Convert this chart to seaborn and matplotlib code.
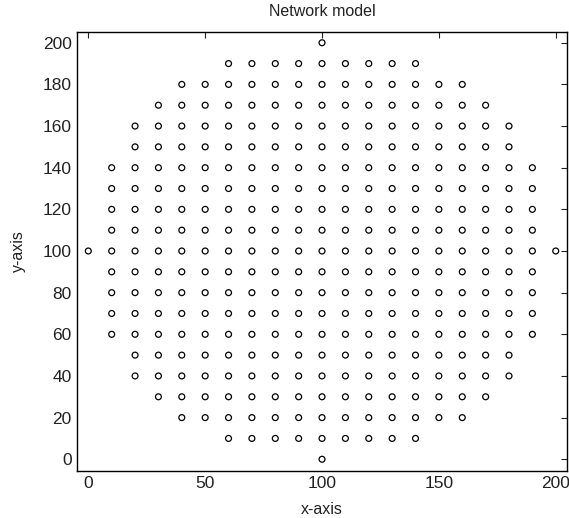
import numpy as np
import pandas as pd
import matplotlib
matplotlib.use("Agg")
import matplotlib.pyplot as plt
import seaborn as sns

# Row y-values and the x-range of nodes present on each row (step 10)
row_y = [200, 190, 180, 170, 160, 150, 140, 130, 120, 110, 100,
         90, 80, 70, 60, 50, 40, 30, 20, 10, 0]
row_xmin = [100, 60, 40, 30, 20, 20, 10, 10, 10, 10, 0,
            10, 10, 10, 10, 20, 20, 30, 40, 60, 100]
row_xmax = [100, 140, 160, 170, 180, 180, 190, 190, 190, 190, 200,
            190, 190, 190, 190, 180, 180, 170, 160, 140, 100]
x_ticks = [0, 50, 100, 150, 200]
y_ticks = [0, 20, 40, 60, 80, 100, 120, 140, 160, 180, 200]

xs, ys = [], []
for y, a, b in zip(row_y, row_xmin, row_xmax):
    for x in range(a, b + 1, 10):
        xs.append(x)
        ys.append(y)
df = pd.DataFrame({"x": xs, "y": ys})

sns.set_theme(style="white")
plt.rcParams['font.family'] = ['Liberation Sans', 'DejaVu Sans']

fig = plt.figure(figsize=(5.69, 5.18), dpi=100)
ax = fig.add_axes([0.1359, 0.0913, 0.8601, 0.8475])

sns.scatterplot(data=df, x="x", y="y", ax=ax, marker="o", s=18,
                facecolor="none", edgecolor="black", linewidth=0.9)

ax.set_xlim(-4.7, 204.7)
ax.set_ylim(-5.5, 205.3)
ax.set_xticks(x_ticks)
ax.set_yticks(y_ticks)
ax.tick_params(direction="in", length=4, width=0.8, top=True, right=True,
               labelsize=12.5, colors="#222222", pad=4)
ax.tick_params(axis="x", labeltop=False)
ax.tick_params(axis="y", labelright=False)
for s in ax.spines.values():
    s.set_color("black")
    s.set_linewidth(1.0)
    s.set_visible(True)
ax.set_xlabel("x-axis", fontsize=11.5, labelpad=8, color="#222222")
ax.set_ylabel("y-axis", fontsize=11.5, labelpad=12, color="#222222")
ax.set_title("Network model", fontsize=11.5, pad=11, color="#222222")

fig.savefig("out.png", dpi=100)
